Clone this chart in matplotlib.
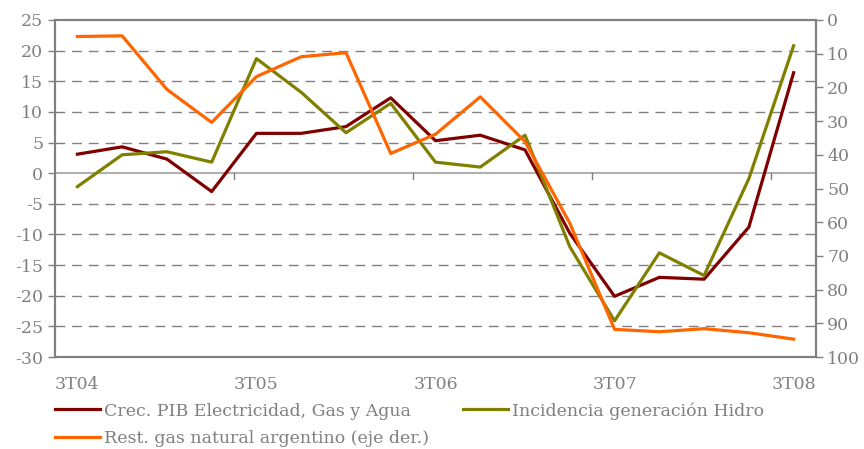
import matplotlib
matplotlib.use("Agg")
import matplotlib.pyplot as plt
import numpy as np

# trimestres 3T04 .. 3T08
trimestres = ['3T04', '4T04', '1T05', '2T05', '3T05', '4T05', '1T06', '2T06', '3T06',
              '4T06', '1T07', '2T07', '3T07', '4T07', '1T08', '2T08', '3T08']
pib = [3.1, 4.3, 2.3, -3.0, 6.5, 6.5, 7.6, 12.3, 5.3, 6.2, 3.8, -9.8, -20.1, -17.0, -17.3, -8.8, 16.4]
hidro = [-2.2, 3.0, 3.5, 1.8, 18.7, 13.2, 6.6, 11.4, 1.8, 1.0, 6.2, -12.0, -24.1, -13.0, -16.7, -0.9, 20.8]
gas = [4.9, 4.7, 20.6, 30.4, 16.8, 10.9, 9.7, 39.6, 33.9, 22.8, 36.1, 60.3, 91.8, 92.5, 91.6, 92.8, 94.7]

gris = '#808080'
plt.rcParams['font.family'] = 'DejaVu Serif'
plt.rcParams['axes.unicode_minus'] = False

fig = plt.figure(figsize=(8.64, 4.49), dpi=100)
ax1 = fig.add_axes([55/864, 1-357/449, (816-55)/864, (357-20)/449])
ax2 = ax1.twinx()

x = np.arange(len(trimestres))

# rejilla discontinua
for v in [20, 15, 10, 5, -5, -10, -15, -20, -25]:
    ax1.axhline(v, color=gris, lw=1, dashes=(7, 5), zorder=0)
ax1.axhline(0, color='#b0b0b0', lw=1.5, zorder=0)
for t in [3.5, 7.5, 11.5, 15.5]:
    ax1.plot([t, t], [0, -0.9], color=gris, lw=1, zorder=0)

l1, = ax1.plot(x, pib, color='#800000', lw=2.3, label='Crec. PIB Electricidad, Gas y Agua')
l2, = ax1.plot(x, hidro, color='#808000', lw=2.3, label='Incidencia generación Hidro')
l3, = ax2.plot(x, gas, color='#ff6600', lw=2.3, label='Rest. gas natural argentino (eje der.)')

ax1.set_xlim(-0.5, 16.5)
ax1.set_ylim(-30, 25)
ax1.set_yticks(range(-30, 26, 5))
ax2.set_ylim(100, 0)
ax2.set_yticks(range(0, 101, 10))

ax1.set_xticks(x[::4])
ax1.set_xticklabels(trimestres[::4])

for a in (ax1, ax2):
    for s in a.spines.values():
        s.set_color(gris)
        s.set_linewidth(1.5)
    a.tick_params(colors=gris, labelsize=12.5, length=5, width=1)
ax1.tick_params(axis='x', length=0, pad=14)
ax2.tick_params(axis='y', pad=3)

fig.legend(handles=[l1, l3, l2], loc='upper left', bbox_to_anchor=(55/864, 1-402/449),
           ncol=2, frameon=False, fontsize=12.5, labelcolor=gris,
           handlelength=2.6, handletextpad=0.2, columnspacing=2.0,
           borderaxespad=0, borderpad=0, labelspacing=0.6)

fig.savefig('out.png', dpi=100)
